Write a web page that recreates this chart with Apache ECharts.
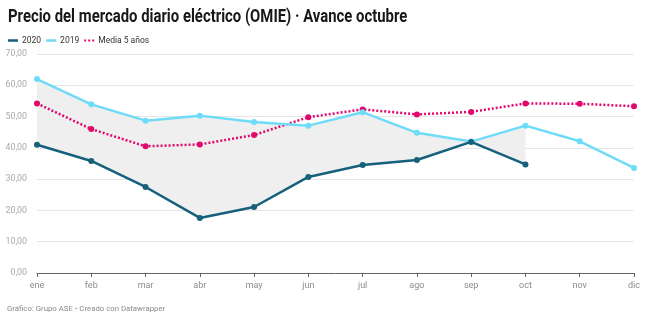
<!DOCTYPE html>
<html>
<head>
<meta charset="utf-8">
<script src="https://cdn.jsdelivr.net/npm/echarts@6/dist/echarts.min.js"></script>
<style>
  html, body { margin: 0; padding: 0; background: #fff; }
  #chart { width: 650px; height: 325px; }
</style>
</head>
<body>
<div id="chart"></div>
<script>
// Monthly OMIE day-ahead price, €/MWh
const months = ['ene', 'feb', 'mar', 'abr', 'may', 'jun', 'jul', 'ago', 'sep', 'oct', 'nov', 'dic'];
const values2020 = [41.0, 35.8, 27.5, 17.6, 21.1, 30.7, 34.5, 36.1, 41.9, 34.7];
const values2019 = [62.0, 53.9, 48.7, 50.3, 48.3, 47.1, 51.4, 44.8, 42.0, 47.1, 42.1, 33.6];
const media5 = [54.2, 46.0, 40.5, 41.1, 44.1, 49.8, 52.3, 50.7, 51.5, 54.2, 54.1, 53.3];
const yTicks = { min: 0, max: 70, step: 10 };

// Shaded band between 2020 and 2019 for the months with 2020 data
const bandLow = values2020.map((v, i) => Math.min(v, values2019[i]));
const bandHeight = values2020.map((v, i) => Math.abs(values2019[i] - v));

const COLOR_2020 = '#15607a';
const COLOR_2019 = '#6fdcf7';
const COLOR_MEDIA = '#e3066d';
const FONT = 'Roboto, "Noto Sans", sans-serif';

const chart = echarts.init(document.getElementById('chart'), null, { renderer: 'canvas' });

chart.setOption({
  animation: false,
  textStyle: { fontFamily: FONT },
  legend: {
    left: 3, top: 31,
    itemGap: 5,
    itemWidth: 10, itemHeight: 2.5,
    textStyle: { fontFamily: FONT, fontSize: 8.5, color: '#333', padding: [0, 0, 0, -1] },
    data: [
      { name: '2020', icon: 'rect' },
      { name: '2019', icon: 'rect' },
      { name: 'Media 5 años', icon: 'path://M0,0h2v2h-2z M4,0h2v2h-2z M8,0h2v2h-2z' }
    ]
  },
  graphic: [
    {
      type: 'text', x: 8, y: 9, scaleX: 0.85,
      style: {
        text: 'Precio del mercado diario eléctrico (OMIE) · Avance octubre',
        fill: '#181818', font: 'bold 17.5px ' + FONT
      }
    },
    {
      type: 'text', x: 7, y: 305,
      style: { text: 'Gráfico: Grupo ASE • Creado con Datawrapper', fill: '#8a8a8a', font: '7.8px ' + FONT }
    }
  ],
  grid: { left: 37, right: 16, top: 54, bottom: 52, containLabel: false },
  xAxis: {
    type: 'category',
    data: months,
    boundaryGap: false,
    axisLine: { lineStyle: { color: '#666', width: 1 } },
    axisTick: { show: true, length: 4, lineStyle: { color: '#666' } },
    axisLabel: { color: '#8c8c8c', fontSize: 9, margin: 8, fontFamily: FONT },
    splitLine: { show: false }
  },
  yAxis: {
    type: 'value',
    min: yTicks.min, max: yTicks.max, interval: yTicks.step,
    axisLine: { show: false },
    axisTick: { show: false },
    axisLabel: {
      color: '#a9a9a9', fontSize: 8.8, margin: 10, fontFamily: FONT,
      formatter: v => v.toFixed(2).replace('.', ',')
    },
    splitLine: { lineStyle: { color: '#e6e6e6', width: 1 } }
  },
  series: [
    {
      name: 'bandBase', type: 'line', stack: 'band', data: bandLow,
      symbol: 'none', lineStyle: { opacity: 0 }, silent: true, z: 1
    },
    {
      name: 'band', type: 'line', stack: 'band', data: bandHeight,
      symbol: 'none', lineStyle: { opacity: 0 },
      areaStyle: { color: '#efefef', opacity: 1 }, silent: true, z: 1
    },
    {
      name: 'Media 5 años', type: 'line', data: media5,
      color: COLOR_MEDIA,
      symbol: 'circle', symbolSize: 6,
      itemStyle: { color: COLOR_MEDIA },
      lineStyle: { color: COLOR_MEDIA, width: 2.5, type: [2, 2] },
      z: 3
    },
    {
      name: '2019', type: 'line', data: values2019,
      color: COLOR_2019,
      symbol: 'circle', symbolSize: 6,
      itemStyle: { color: COLOR_2019 },
      lineStyle: { color: COLOR_2019, width: 2.5 },
      z: 4
    },
    {
      name: '2020', type: 'line', data: values2020,
      color: COLOR_2020,
      symbol: 'circle', symbolSize: 6,
      itemStyle: { color: COLOR_2020 },
      lineStyle: { color: COLOR_2020, width: 2.5 },
      z: 5
    }
  ]
});
</script>
</body>
</html>
